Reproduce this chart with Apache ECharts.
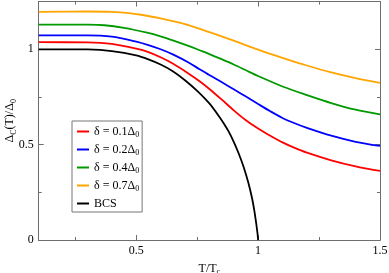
<!DOCTYPE html>
<html>
<head>
<meta charset="utf-8">
<script src="https://cdn.jsdelivr.net/npm/echarts@6/dist/echarts.min.js"></script>
<style>html,body{margin:0;padding:0;background:#fff}#c{width:389px;height:273px}</style>
</head>
<body>
<div id="c"></div>
<script>
const xTicksMajor = [0.5, 1, 1.5];
const xTicksMinor = [0.25, 0.75, 1.25];
const legendLabels = ['δ = 0.1Δ{s|0}', 'δ = 0.2Δ{s|0}', 'δ = 0.4Δ{s|0}', 'δ = 0.7Δ{s|0}', 'BCS'];
const seriesNames = ['d01', 'd02', 'd04', 'd07', 'BCS'];

const tRed = [0.1, 0.3, 0.4, 0.5, 0.55, 0.6, 0.65, 0.72, 0.76, 0.8, 0.85, 0.9, 0.95, 1.0, 1.05, 1.1, 1.15, 1.2, 1.3, 1.4, 1.5];
const vRed = [1.037, 1.036, 1.028, 1.003, 0.985, 0.958, 0.925, 0.868, 0.832, 0.792, 0.737, 0.68, 0.628, 0.585, 0.547, 0.512, 0.483, 0.458, 0.418, 0.386, 0.362];

const tBlue = [0.1, 0.3, 0.4, 0.5, 0.55, 0.6, 0.65, 0.72, 0.76, 0.8, 0.85, 0.9, 0.95, 1.0, 1.05, 1.1, 1.15, 1.2, 1.3, 1.4, 1.5];
const vBlue = [1.073, 1.073, 1.066, 1.04, 1.022, 1.0, 0.973, 0.927, 0.895, 0.865, 0.828, 0.79, 0.752, 0.713, 0.675, 0.64, 0.612, 0.588, 0.547, 0.515, 0.493];

const tGreen = [0.1, 0.3, 0.37, 0.45, 0.54, 0.6, 0.65, 0.72, 0.76, 0.8, 0.85, 0.9, 0.95, 1.0, 1.1, 1.2, 1.3, 1.4, 1.5];
const vGreen = [1.129, 1.129, 1.126, 1.112, 1.088, 1.068, 1.047, 1.015, 0.995, 0.975, 0.948, 0.92, 0.89, 0.86, 0.805, 0.76, 0.718, 0.683, 0.659];

const tOrange = [0.1, 0.3, 0.4, 0.47, 0.52, 0.6, 0.7, 0.8, 0.9, 1.0, 1.1, 1.2, 1.3, 1.4, 1.5];
const vOrange = [1.196, 1.198, 1.196, 1.19, 1.181, 1.162, 1.132, 1.09, 1.045, 0.998, 0.955, 0.915, 0.879, 0.849, 0.824];

const tBCS = [0.1, 0.3, 0.4, 0.5, 0.55, 0.6, 0.65, 0.7, 0.75, 0.8, 0.84, 0.86, 0.88, 0.9, 0.92, 0.94, 0.96, 0.975, 0.985, 0.993, 0.998, 1.0];
const vBCS = [1.0, 0.999, 0.99, 0.968, 0.947, 0.92, 0.885, 0.838, 0.782, 0.716, 0.648, 0.61, 0.567, 0.515, 0.455, 0.385, 0.3, 0.22, 0.15, 0.08, 0.03, 0.0];

const colors = ['#ff0000', '#0000ff', '#009a00', '#ffa500', '#000000'];
const T = [tRed, tBlue, tGreen, tOrange, tBCS];
const V = [vRed, vBlue, vGreen, vOrange, vBCS];

const FONT = 'Liberation Serif';
const AX = '#6e6e6e';
const chart = echarts.init(document.getElementById('c'));

function xAxisDef(pos, ticks, len, withLabel) {
  return {
    type: 'value', min: 0.1, max: 1.5, position: pos, gridIndex: 0,
    axisLine: {show: true, onZero: false, lineStyle: {color: AX, width: 1}},
    axisTick: {show: true, inside: true, length: len, customValues: ticks, lineStyle: {color: AX}},
    axisLabel: withLabel ? {show: true, customValues: ticks, color: '#000', fontFamily: FONT, fontSize: 12, margin: 5,
      formatter: v => String(v)} : {show: false},
    splitLine: {show: false}
  };
}
function yAxisDef(pos, withLabel) {
  return {
    type: 'value', min: 0, max: 1.25, interval: 0.5, position: pos, gridIndex: 0,
    axisLine: {show: true, onZero: false, lineStyle: {color: AX, width: 1}},
    axisTick: {show: true, inside: true, length: 5, lineStyle: {color: AX}},
    minorTick: {show: true, splitNumber: 2, length: 3, lineStyle: {color: AX}},
    axisLabel: withLabel ? {show: true, showMaxLabel: false, color: '#000', fontFamily: FONT, fontSize: 12, margin: 5,
      formatter: v => (Math.abs(v * 2 - Math.round(v * 2)) < 1e-9 ? String(v) : '')} : {show: false},
    splitLine: {show: false}
  };
}

const xAxes = [
  xAxisDef('bottom', xTicksMajor, 5, true),
  xAxisDef('top', xTicksMajor, 5, false),
  xAxisDef('bottom', xTicksMinor, 3, false),
  xAxisDef('top', xTicksMinor, 3, false)
];
xAxes[0].name = 'T/T{s|c}';
xAxes[0].nameLocation = 'middle';
xAxes[0].nameGap = 21;
xAxes[0].nameMoveOverlap = false;
xAxes[0].nameTextStyle = {color: '#000', fontFamily: FONT, fontSize: 12,
  rich: {s: {fontFamily: FONT, fontSize: 8, padding: [7, 0, 0, 0], color: '#000'}}};

const yAxes = [yAxisDef('left', true), yAxisDef('right', false)];
yAxes[0].name = 'Δ{s|C}(T)/Δ{s|0}';
yAxes[0].nameLocation = 'middle';
yAxes[0].nameGap = 21;
yAxes[0].nameMoveOverlap = false;
yAxes[0].nameTextStyle = {color: '#000', fontFamily: FONT, fontSize: 12,
  rich: {s: {fontFamily: FONT, fontSize: 8, padding: [7, 0, 0, 0], color: '#000'}}};

const series = seriesNames.map((n, i) => ({
  name: n, type: 'line', xAxisIndex: 0, yAxisIndex: 0,
  data: T[i].map((t, j) => [t, V[i][j]]),
  showSymbol: false, symbol: 'none', smooth: i === 4 ? 0.15 : 0.3,
  lineStyle: {color: colors[i], width: 1.8}, itemStyle: {color: colors[i]},
  z: 10 - i, silent: true
}));

chart.setOption({
  animation: false,
  backgroundColor: '#fff',
  grid: {left: 38.7, right: 9, top: 1.6, bottom: 33, containLabel: false, outerBoundsMode: 'none'},
  xAxis: xAxes,
  yAxis: yAxes,
  legend: {
    show: true, orient: 'vertical', left: 72, top: 121,
    data: seriesNames.map(n => ({name: n, icon: 'rect'})),
    itemWidth: 12, itemHeight: 2, itemGap: 3, itemTextGap: 8,
    padding: [3, 3, 1, 5],
    borderColor: '#777', borderWidth: 1, backgroundColor: '#fff',
    selectedMode: false,
    formatter: name => legendLabels[seriesNames.indexOf(name)],
    textStyle: {color: '#000', fontFamily: FONT, fontSize: 12, lineHeight: 15,
      rich: {s: {fontFamily: FONT, fontSize: 8, padding: [7, 0, 0, 0], color: '#000'}}}
  },
  series: series
});
</script>
</body>
</html>
